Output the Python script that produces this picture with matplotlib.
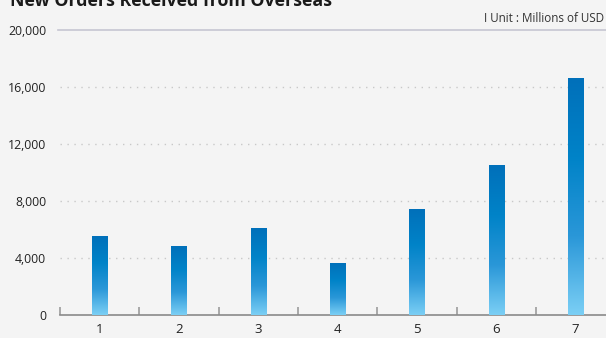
import numpy as np
import matplotlib.pyplot as plt
from matplotlib.colors import LinearSegmentedColormap

# data
categories = ['1', '2', '3', '4', '5', '6', '7']
orders = [5500, 4800, 6050, 3650, 7450, 10500, 16600]
y_ticks = [0, 4000, 8000, 12000, 16000, 20000]
y_labels = ['0', '4,000', '8,000', '12,000', '16,000', '20,000']

plt.rcParams['font.family'] = ['Open Sans', 'DejaVu Sans']

bg = '#f4f4f4'
fig = plt.figure(figsize=(6.06, 3.38), dpi=100, facecolor=bg)
# axes runs past the right edge like in the original
ax = fig.add_axes([60 / 606, 23 / 338, 555.3 / 606, 284.5 / 338])
ax.set_facecolor(bg)

x = np.arange(len(categories))
bars = ax.bar(x, orders, width=0.19, color='none', zorder=3)

# vertical gradient for each bar
cmap = LinearSegmentedColormap.from_list('blues', ['#7bcff5', '#2a97d8', '#0083c8', '#0070ba'])
grad = np.linspace(0, 1, 256).reshape(-1, 1)
for b in bars:
    bx, bw, bh = b.get_x(), b.get_width(), b.get_height()
    ax.imshow(grad, cmap=cmap, origin='lower', aspect='auto',
              extent=(bx, bx + bw, 0, bh), zorder=3)

ax.set_xlim(-0.5, 6.5)
ax.set_ylim(0, 20000)

# grid lines
for v in y_ticks[1:-1]:
    ax.axhline(v, color='#c8c8c8', lw=1, ls=(0, (1, 4)), zorder=1)
ax.axhline(20000, xmin=-0.004, color='#c6c6d2', lw=1.2, zorder=1, clip_on=False)

for s in ['top', 'right', 'left']:
    ax.spines[s].set_visible(False)
ax.spines['bottom'].set_color('#8a8a8a')
ax.spines['bottom'].set_linewidth(1.2)

ax.set_yticks(y_ticks)
ax.set_yticklabels(y_labels, fontsize=8.8, color='#222222')
ax.tick_params(axis='y', length=0, pad=10)

# boundary ticks and centred labels
ax.set_xticks(np.arange(-0.5, 7, 1))
ax.set_xticklabels([])
ax.tick_params(axis='x', which='major', direction='in', length=6, width=1.4, color='#a8a8a8')
ax.set_xticks(x, minor=True)
ax.set_xticklabels(categories, minor=True, fontsize=9.5, color='#222222')
ax.tick_params(axis='x', which='minor', length=0, pad=6)

fig.text(10 / 606, 1 - 6 / 338, 'New Orders Received from Overseas', fontsize=12.8,
         fontweight='bold', color='#1a1a1a', ha='left', va='baseline')
fig.text(604 / 606, 1 - 22 / 338, 'I Unit : Millions of USD', fontsize=8.4,
         color='#333333', ha='right', va='baseline')

fig.savefig('out.png', dpi=100, facecolor=bg)
